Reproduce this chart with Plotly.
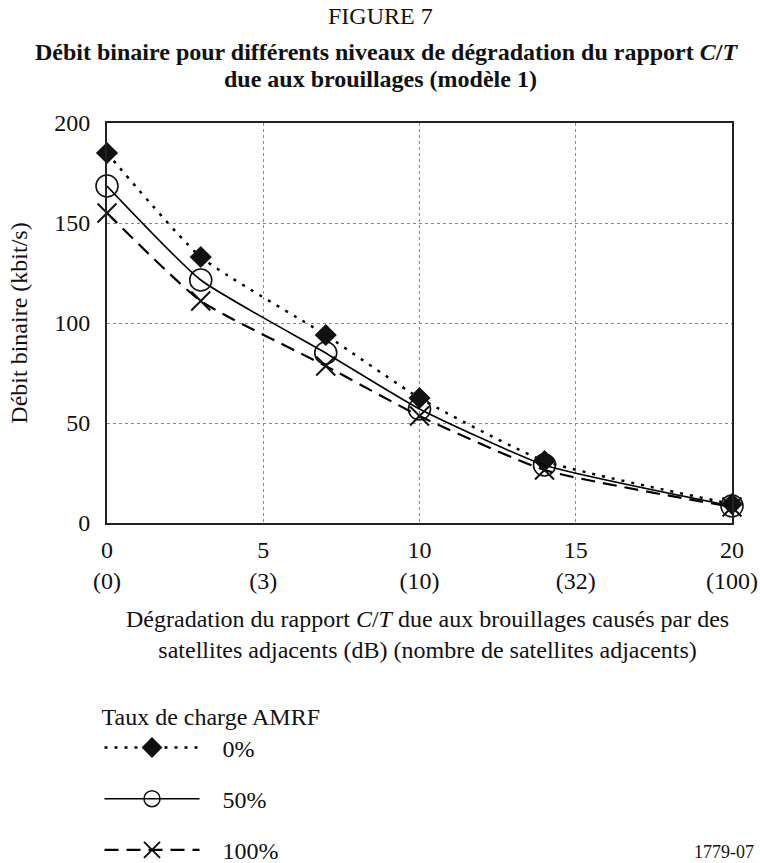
import plotly.graph_objects as go

x_db = [0, 3, 7, 10, 14, 20]
load_0 = [185, 133, 94, 62.5, 31, 9.5]
load_50 = [168.5, 121.5, 85, 57, 29, 8.5]
load_100 = [155, 111, 78.5, 53.5, 26.5, 8]

tick_vals = [0, 5, 10, 15, 20]
tick_db = ["0", "5", "10", "15", "20"]
tick_sat = ["(0)", "(3)", "(10)", "(32)", "(100)"]
series_names = ["0%", "50%", "100%"]

FONT = "Liberation Serif, Times New Roman, serif"
FS = 24
PAD = "\u00a0\u00a0\u00a0"

fig = go.Figure()

fig.add_trace(go.Scatter(
    x=x_db, y=load_0, name=PAD + series_names[0], mode="lines+markers",
    line=dict(color="black", width=2.5, dash="3px,7px", shape="spline", smoothing=0.5),
    marker=dict(symbol="diamond", size=17, color="#111"),
    cliponaxis=False, legendgroup="a"))
fig.add_trace(go.Scatter(
    x=x_db, y=load_50, name=PAD + series_names[1], mode="lines+markers",
    line=dict(color="black", width=1.6, shape="spline", smoothing=0.5),
    marker=dict(symbol="circle-open", size=22, color="#111", line=dict(width=1.6)),
    cliponaxis=False, legendgroup="b"))
fig.add_trace(go.Scatter(
    x=x_db, y=load_100, name=PAD + series_names[2], mode="lines+markers",
    line=dict(color="black", width=2.2, dash="14px,8px", shape="spline", smoothing=0.5),
    marker=dict(symbol="x-thin-open", size=19, color="#111", line=dict(width=2, color="#111")),
    cliponaxis=False, legendgroup="c"))

fig.update_layout(
    width=760, height=863,
    margin=dict(l=107, r=28, t=123, b=340, autoexpand=False),
    paper_bgcolor="white", plot_bgcolor="white",
    font=dict(family=FONT, size=FS, color="#111"),
    showlegend=True,
    legend=dict(
        x=-0.012, y=-0.428, xanchor="left", yanchor="top",
        title=dict(text="Taux de charge AMRF", font=dict(size=FS)),
        font=dict(size=FS), itemwidth=95, tracegroupgap=17,
        traceorder="grouped", bgcolor="rgba(0,0,0,0)"),
    xaxis=dict(
        range=[0, 20], tickvals=tick_vals,
        ticktext=[f"{a}<br>{b}" for a, b in zip(tick_db, tick_sat)],
        showgrid=True, gridcolor="#888", griddash="dot", gridwidth=1,
        showline=True, linecolor="#222", linewidth=2, mirror=True,
        ticks="outside", ticklen=4, tickcolor="rgba(0,0,0,0)",
        zeroline=False, tickfont=dict(size=FS)),
    yaxis=dict(
        range=[0, 200], dtick=50,
        showgrid=True, gridcolor="#888", griddash="dot", gridwidth=1,
        showline=True, linecolor="#222", linewidth=2, mirror=True,
        ticks="outside", ticklen=10, tickcolor="rgba(0,0,0,0)",
        zeroline=False, tickfont=dict(size=FS),
        title=dict(text="Débit binaire (kbit/s)", font=dict(size=FS), standoff=20)),
)

cx = (380 - 107) / 625
fig.add_annotation(text="FIGURE 7", xref="paper", yref="paper",
                   x=cx, y=(523 - 16) / 400, showarrow=False,
                   font=dict(size=FS, family=FONT), xanchor="center", yanchor="middle")
fig.add_annotation(text="<b>Débit binaire pour différents niveaux de dégradation du rapport <i>C</i>/<i>T</i></b>",
                   xref="paper", yref="paper",
                   x=(386 - 107) / 625, y=(523 - 52) / 400, showarrow=False,
                   font=dict(size=FS, family=FONT), xanchor="center", yanchor="middle")
fig.add_annotation(text="<b>due aux brouillages (modèle 1)</b>",
                   xref="paper", yref="paper",
                   x=cx, y=(523 - 79) / 400, showarrow=False,
                   font=dict(size=FS, family=FONT), xanchor="center", yanchor="middle")
fig.add_annotation(text="Dégradation du rapport <i>C</i>/<i>T</i> due aux brouillages causés par des<br>satellites adjacents (dB) (nombre de satellites adjacents)",
                   xref="paper", yref="paper",
                   x=(428 - 107) / 625, y=(523 - 634) / 400, showarrow=False,
                   font=dict(size=FS, family=FONT), xanchor="center", yanchor="middle")
fig.add_annotation(text="1779-07", xref="paper", yref="paper",
                   x=(724 - 107) / 625, y=(523 - 852) / 400, showarrow=False,
                   font=dict(size=18, family=FONT), xanchor="center", yanchor="middle")

fig.write_html("out.html")
